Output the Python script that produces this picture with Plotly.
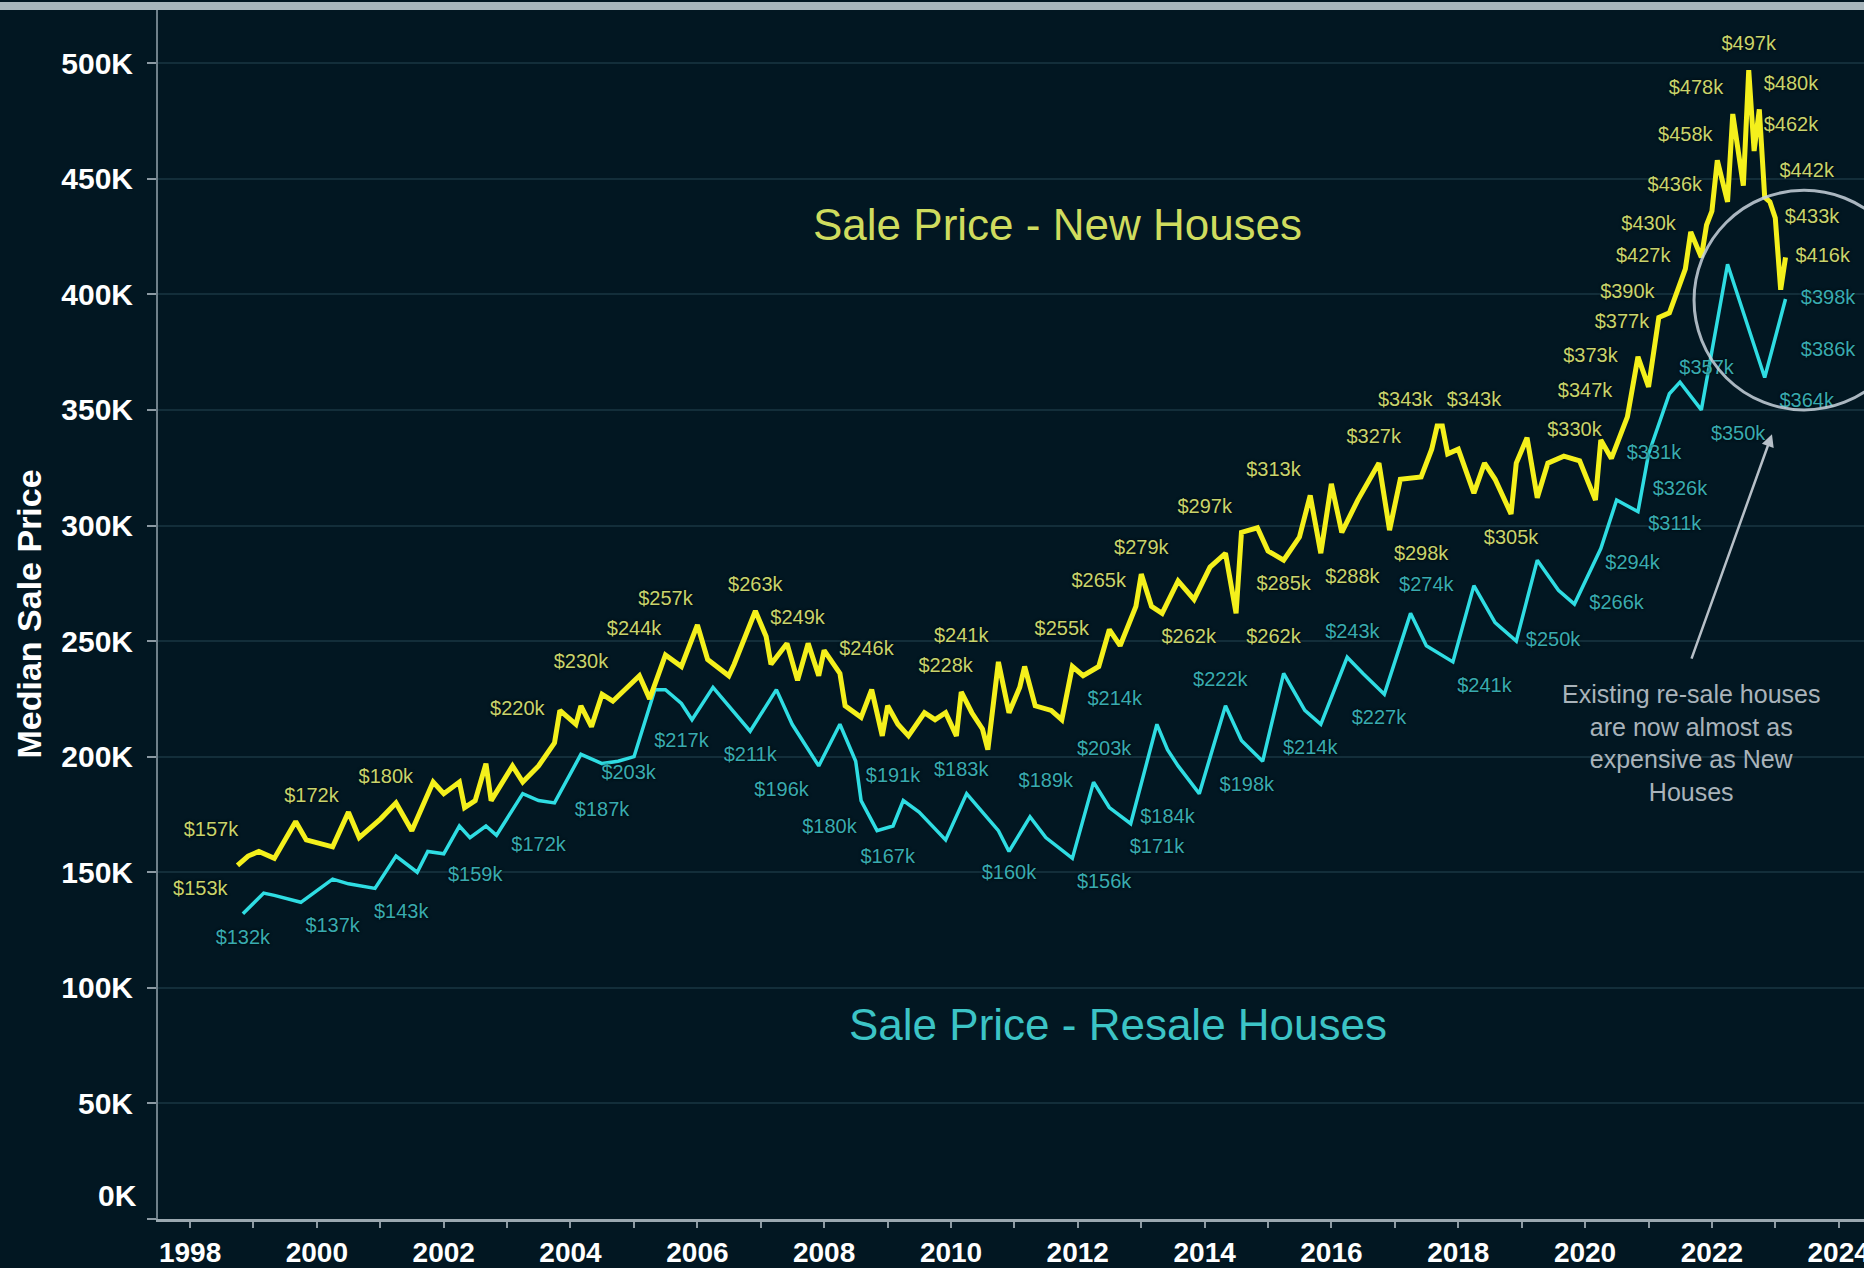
import plotly.graph_objects as go

# ---------------- data (values in $K) ----------------
new_dates = [
    "1998-10", "1998-12", "1999-02", "1999-05", "1999-09", "1999-11", "2000-04", "2000-07", "2000-09",
    "2001-01", "2001-04", "2001-07", "2001-11", "2002-01", "2002-04", "2002-05", "2002-07", "2002-09",
    "2002-10", "2003-02", "2003-04", "2003-07", "2003-10", "2003-11", "2004-02", "2004-03", "2004-05",
    "2004-07", "2004-09", "2004-12", "2005-02", "2005-04", "2005-07", "2005-10", "2006-01", "2006-03",
    "2006-07", "2006-08", "2006-12", "2007-02", "2007-03", "2007-06", "2007-08", "2007-10", "2007-12",
    "2008-01", "2008-04", "2008-05", "2008-08", "2008-10", "2008-12", "2009-01", "2009-03", "2009-05",
    "2009-08", "2009-10", "2009-12", "2010-02", "2010-03", "2010-05", "2010-07", "2010-08", "2010-10",
    "2010-12", "2011-02", "2011-03", "2011-05", "2011-08", "2011-10", "2011-12", "2012-02", "2012-05",
    "2012-07", "2012-09", "2012-12", "2013-01", "2013-03", "2013-05", "2013-08", "2013-11", "2014-02",
    "2014-05", "2014-07", "2014-08", "2014-11", "2015-01", "2015-04", "2015-07", "2015-09", "2015-11",
    "2016-01", "2016-03", "2016-06", "2016-10", "2016-12", "2017-02", "2017-06", "2017-08", "2017-09",
    "2017-10", "2017-11", "2018-01", "2018-04", "2018-06", "2018-08", "2018-11", "2018-12", "2019-02",
    "2019-04", "2019-06", "2019-09", "2019-12", "2020-03", "2020-04", "2020-06", "2020-09", "2020-11",
    "2021-01", "2021-03", "2021-05", "2021-08", "2021-09", "2021-11", "2021-12", "2022-01", "2022-02",
    "2022-04", "2022-05", "2022-07", "2022-08", "2022-09", "2022-10", "2022-11", "2022-12", "2023-01",
    "2023-02", "2023-03",
]
new_values = [
    153, 157, 159, 156, 172, 164, 161, 176, 165,
    173, 180, 168, 189, 184, 189, 178, 181, 197,
    181, 196, 189, 196, 206, 220, 214, 222, 213,
    227, 224, 231, 235, 225, 244, 239, 257, 242,
    235, 240, 263, 252, 240, 249, 233, 249, 235,
    246, 236, 222, 217, 229, 209, 222, 214, 209,
    219, 216, 219, 209, 228, 219, 212, 203, 241,
    219, 230, 239, 222, 220, 216, 239, 235, 239,
    255, 248, 265, 279, 265, 262, 276, 268, 282,
    288, 262, 297, 299, 289, 285, 295, 313, 288,
    318, 297, 311, 327, 298, 320, 321, 333, 343,
    343, 331, 333, 314, 327, 320, 305, 327, 338,
    312, 327, 330, 328, 311, 337, 329, 347, 373,
    360, 390, 392, 411, 427, 416, 430, 436, 458,
    440, 478, 447, 497, 462, 480, 442, 440, 433,
    402, 416,
]

resale_dates = [
    "1998-11", "1999-03", "1999-05", "1999-10", "2000-04", "2000-07", "2000-12", "2001-04", "2001-08",
    "2001-10", "2002-01", "2002-04", "2002-06", "2002-09", "2002-11", "2003-04", "2003-07", "2003-10",
    "2004-03", "2004-07", "2004-10", "2005-01", "2005-05", "2005-07", "2005-10", "2005-12", "2006-04",
    "2006-07", "2006-11", "2007-04", "2007-07", "2007-12", "2008-04", "2008-07", "2008-08", "2008-11",
    "2009-02", "2009-04", "2009-07", "2009-12", "2010-04", "2010-07", "2010-10", "2010-12", "2011-04",
    "2011-07", "2011-12", "2012-04", "2012-07", "2012-11", "2013-04", "2013-06", "2013-08", "2013-12",
    "2014-05", "2014-08", "2014-12", "2015-04", "2015-08", "2015-11", "2016-04", "2016-07", "2016-11",
    "2017-04", "2017-07", "2017-12", "2018-04", "2018-08", "2018-12", "2019-04", "2019-08", "2019-11",
    "2020-04", "2020-07", "2020-11", "2021-01", "2021-05", "2021-07", "2021-11", "2022-04", "2022-11",
    "2023-03",
]
resale_values = [
    132, 141, 140, 137, 147, 145, 143, 157, 150,
    159, 158, 170, 165, 170, 166, 184, 181, 180,
    201, 197, 198, 200, 229, 229, 223, 216, 230,
    222, 211, 229, 214, 196, 214, 198, 181, 168,
    170, 181, 176, 164, 184, 176, 168, 159, 174,
    165, 156, 189, 178, 171, 214, 203, 196, 184,
    222, 207, 198, 236, 220, 214, 243, 236, 227,
    262, 248, 241, 274, 258, 250, 285, 272, 266,
    290, 311, 306, 331, 357, 362, 350, 413, 364,
    398,
]

# value labels (date where the label sits, labelled value, side of the point)
new_label_dates = [
    "1998-05", "1998-03", "1999-12", "2001-02", "2003-03", "2004-03", "2005-01", "2005-07", "2006-12",
    "2007-08", "2008-09", "2010-03", "2009-12", "2011-10", "2012-05", "2013-01", "2014-01", "2013-10",
    "2015-02", "2015-02", "2015-04", "2016-05", "2016-09", "2017-03", "2018-04", "2017-06", "2018-11",
    "2019-11", "2020-01", "2020-02", "2020-08", "2020-09", "2020-12", "2021-01", "2021-06", "2021-08",
    "2021-10", "2022-08", "2023-04", "2023-04", "2023-07", "2023-08", "2023-10",
]
new_label_values = [
    157, 153, 172, 180, 220, 230, 244, 257, 263,
    249, 246, 241, 228, 255, 265, 279, 297, 262,
    262, 313, 285, 288, 327, 343, 343, 298, 305,
    330, 347, 373, 377, 390, 427, 430, 436, 458,
    478, 497, 480, 462, 442, 433, 416,
]
new_label_pos = [
    "top center", "bottom center", "top center", "top center", "middle center", "top center",
    "top center", "top center", "top center", "top center", "middle center", "top center",
    "top center", "middle center", "top center", "top center", "top center", "bottom center",
    "bottom center", "top center", "bottom center", "bottom center", "top center", "top center",
    "top center", "bottom center", "bottom center", "top center", "top center", "middle center",
    "top center", "top center", "bottom center", "middle center", "top center", "top center",
    "top center", "top center", "top center", "top center", "top center", "middle center",
    "middle center",
]

resale_label_dates = [
    "1998-11", "2000-04", "2001-05", "2002-07", "2003-07", "2004-07", "2004-12", "2005-10", "2006-11",
    "2007-05", "2008-02", "2009-02", "2010-03", "2009-01", "2010-12", "2011-07", "2012-06", "2012-06",
    "2012-08", "2013-04", "2013-06", "2014-04", "2014-09", "2016-05", "2015-09", "2016-10", "2017-07",
    "2018-06", "2019-07", "2020-07", "2020-10", "2021-06", "2021-07", "2021-02", "2021-12", "2022-06",
    "2023-07", "2023-11", "2023-11",
]
resale_label_values = [
    132, 137, 143, 159, 172, 187, 203, 217, 211,
    196, 180, 191, 183, 167, 160, 189, 156, 203,
    214, 171, 184, 222, 198, 243, 214, 227, 274,
    241, 250, 266, 294, 311, 326, 331, 357, 350,
    364, 386, 398,
]
resale_label_pos = [
    "bottom center", "bottom center", "bottom center", "bottom center", "bottom center",
    "bottom center", "bottom center", "bottom center", "bottom center", "bottom center",
    "bottom center", "middle center", "top center", "bottom center", "bottom center",
    "middle center", "bottom center", "middle center", "top center", "bottom center",
    "bottom center", "top center", "bottom center", "top center", "bottom center",
    "bottom center", "middle center", "bottom center", "middle center", "middle center",
    "bottom center", "bottom center", "bottom center", "middle center", "top center",
    "bottom center", "bottom center", "bottom center", "middle center",
]

year_ticks = list(range(1998, 2025, 2))
price_ticks = list(range(0, 501, 50))

# ---------------- style ----------------
BG = "#021722"
GRID = "#132e3a"
YELLOW = "#f4f01c"
CYAN = "#2fdde3"
YELLOW_LABEL = "#c9d46c"
CYAN_LABEL = "#38abb0"
FONT = "Liberation Sans, Arial, sans-serif"

fig = go.Figure()

fig.add_trace(go.Scatter(
    x=resale_dates, y=resale_values, mode="lines", name="Resale Houses",
    line=dict(color=CYAN, width=3.5), hoverinfo="x+y",
))
fig.add_trace(go.Scatter(
    x=new_dates, y=new_values, mode="lines", name="New Houses",
    line=dict(color=YELLOW, width=5), hoverinfo="x+y",
))

def label_trace(dates, values, positions, color):
    return go.Scatter(
        x=dates, y=values, mode="markers+text",
        text=[f"${v}k" for v in values], textposition=positions,
        marker=dict(size=22, opacity=0),
        textfont=dict(family=FONT, size=20, color=color, shadow="0px 0px 3px #000000"),
        hoverinfo="skip", showlegend=False, cliponaxis=False,
    )

fig.add_trace(label_trace(resale_label_dates, resale_label_values, resale_label_pos, CYAN_LABEL))
fig.add_trace(label_trace(new_label_dates, new_label_values, new_label_pos, YELLOW_LABEL))

tick_font = dict(family=FONT, size=30, color="#ffffff", weight="bold")

fig.update_layout(
    width=1864, height=1268,
    margin=dict(l=158, r=0, t=10, b=49, pad=0, autoexpand=False),
    paper_bgcolor=BG, plot_bgcolor=BG,
    showlegend=False,
    font=dict(family=FONT, color="#ffffff"),
    xaxis=dict(
        type="date",
        range=["1997-06-30", "2024-05-26"],
        tickvals=[f"{y}-01-01" for y in year_ticks],
        ticktext=[str(y) for y in year_ticks],
        ticks="outside", ticklen=6, tickwidth=2, tickcolor="#8c9aa3",
        minor=dict(dtick="M12", tick0="1998-01-01", ticks="outside", ticklen=6,
                   tickwidth=2, tickcolor="#8c9aa3", showgrid=False),
        tickfont=dict(family=FONT, size=28, color="#ffffff", weight="bold"),
        showgrid=False, zeroline=False,
        showline=True, linecolor="#9aa8b0", linewidth=3,
        ticklabelstandoff=0,
        ticklabeloverflow="allow",
    ),
    yaxis=dict(
        range=[0, 523],
        tickvals=price_ticks,
        ticktext=["" if v == 0 else f"{v}K" for v in price_ticks],
        ticks="outside", ticklen=9, tickwidth=2, tickcolor="#8c9aa3",
        tickfont=tick_font,
        showgrid=True, gridcolor=GRID, gridwidth=2,
        zeroline=False,
        showline=True, linecolor="#6f808a", linewidth=2,
        ticklabelstandoff=8,
    ),
    shapes=[
        dict(type="rect", xref="paper", yref="paper", x0=-0.1, x1=1.0, y0=1.0, y1=1.0066,
             fillcolor="#a8b6bc", line=dict(width=0), layer="above"),
        dict(type="circle", xref="x", yref="y", x0="2021-09-20", x1="2025-03-10", y0=350, y1=445,
             line=dict(color="rgba(200,210,220,0.85)", width=3)),
    ],
    annotations=[
        dict(text="Median Sale Price", xref="paper", yref="paper", x=0, y=0.5,
             xshift=-151, textangle=-90, showarrow=False,
             font=dict(family=FONT, size=34, color="#ffffff", weight="bold")),
        # the 0K tick label sits a little above the axis line in the reference
        dict(text="0K", xref="paper", yref="y", x=0, y=0, xanchor="right", yanchor="middle",
             xshift=-19, yshift=24, showarrow=False, font=tick_font),
        dict(text="Sale Price - New Houses", x="2011-09-08", y=430, showarrow=False,
             font=dict(family=FONT, size=44, color="#cfdc5e")),
        dict(text="Sale Price - Resale Houses", x="2012-08-20", y=84, showarrow=False,
             font=dict(family=FONT, size=44, color="#3cc4c6")),
        dict(text="Existing re-sale houses<br>are now almost as<br>expensive as New<br>Houses",
             x="2021-09-01", y=205.9, showarrow=False,
             align="center", font=dict(family=FONT, size=25, color="#a9b3ba")),
        dict(text="", x="2022-12-13", y=339.5, ax=-81, ay=226, showarrow=True,
             arrowhead=2, arrowsize=1, arrowwidth=2.5, arrowcolor="#b7c0c8"),
    ],
)

fig.write_html("out.html")
